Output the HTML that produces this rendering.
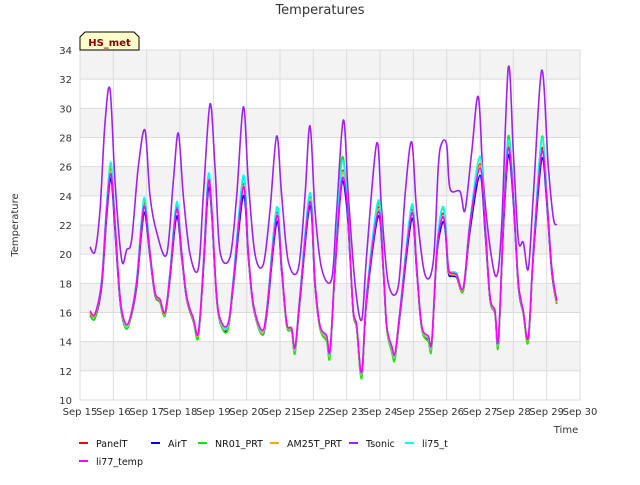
<!DOCTYPE html>
<html><head><meta charset="utf-8"><style>
body{margin:0;background:#fff;}
svg{font-family:"DejaVu Sans","Liberation Sans",sans-serif;}
</style></head><body>
<svg id="chart" width="640" height="480" viewBox="0 0 640 480" xmlns="http://www.w3.org/2000/svg">
<text x="320" y="14" text-anchor="middle" font-size="13" fill="#333">Temperatures</text>
<g id="bands"></g>
<g id="grid"></g>
<g id="yticks"></g>
<g id="xticks"></g>
<g id="series"></g>
<text transform="translate(18,225) rotate(-90)" text-anchor="middle" font-size="10" fill="#333">Temperature</text>
<text x="566" y="433" text-anchor="middle" font-size="10" fill="#333">Time</text>
<g>
<path d="M80,50 L80,37 L85,32 L134,32 L139,37 L139,50 Z" fill="#ffffcc" stroke="#000" stroke-width="1"/>
<text x="109.5" y="46" text-anchor="middle" font-size="10" font-weight="bold" fill="#8b0000">HS_met</text>
</g>
<g id="legend"></g>
</svg>
<script>
const yTicks=[10,12,14,16,18,20,22,24,26,28,30,32,34];
const xTickLabels=["Sep 15","Sep 16","Sep 17","Sep 18","Sep 19","Sep 20","Sep 21","Sep 22","Sep 23","Sep 24","Sep 25","Sep 26","Sep 27","Sep 28","Sep 29","Sep 30"];
const times=[0.3,0.45,0.65,0.8,0.93,1.05,1.2,1.35,1.5,1.7,1.85,1.95,2.1,2.25,2.4,2.55,2.7,2.9,3.05,3.2,3.4,3.55,3.7,3.85,3.95,4.1,4.25,4.45,4.6,4.9,5.05,5.2,5.45,5.6,5.9,6.05,6.2,6.35,6.45,6.6,6.9,7.05,7.2,7.4,7.5,7.65,7.85,8.0,8.1,8.2,8.3,8.45,8.6,8.95,9.1,9.2,9.35,9.45,9.6,9.95,10.1,10.25,10.45,10.55,10.7,10.85,10.95,11.05,11.15,11.3,11.5,11.7,12.0,12.15,12.3,12.45,12.55,12.7,12.85,13.0,13.15,13.3,13.45,13.6,13.85,14.0,14.15,14.3];
const panelT=[16.0,15.8,18,23,25.8,22,17,15.1,15.5,18,22,23.4,20,17.3,16.8,15.9,18.5,23.2,20,17,15.5,14.5,19,25.1,23,17,15.1,15.1,18,24.8,20,16.5,14.6,16,22.8,19,15.2,14.8,13.4,17,23.9,18,15,14.2,13.2,19,25.5,24,20,16,15,11.7,17,23.2,19,15,13.5,13,16,23,19,15,14.2,13.8,20,22.6,22.2,19,18.6,18.5,17.6,22,26.2,22,17,16,13.9,22,27.6,24,18,16,14.2,20,27.2,24,19,16.7];
const airT=[15.8,15.6,17.8,22.6,25.2,21.6,16.8,15.0,15.4,17.8,21.6,22.8,19.8,17.2,16.7,15.8,18.3,22.6,19.8,16.9,15.4,14.4,18.8,24.4,22.7,16.9,15.0,15.0,17.8,24,19.8,16.4,14.5,15.8,22.2,18.8,15.1,14.7,13.3,16.8,23.3,17.8,14.9,14.1,13.1,18.8,24.8,23.3,19.8,15.9,14.9,11.6,16.8,22.6,18.8,14.9,13.4,12.9,15.8,22.4,18.8,14.9,14.1,13.7,19.8,22,21.8,18.8,18.5,18.4,17.5,21.6,25.4,21.6,16.9,15.9,13.8,21.6,26.8,23.6,17.8,15.9,14.1,19.8,26.5,23.6,18.8,16.6];
const nr01=[15.9,15.6,18.2,23.3,26.1,22.2,17,15.0,15.4,18.2,22.3,23.7,20.1,17.3,16.7,15.8,18.7,23.5,20.1,17,15.4,14.3,19.2,25.4,23.1,17,15.0,14.9,18.2,25.3,20.1,16.5,14.5,16.1,23.2,19.1,15.1,14.7,13.2,17.2,24.2,18.1,14.9,14.0,13.0,19.2,26.5,24.2,20.1,16,14.9,11.5,17.2,23.5,19.1,14.9,13.3,12.8,16.1,23.3,19.1,14.9,14.0,13.6,20.2,23.0,22.5,19.1,18.7,18.6,17.5,22.2,26.7,22.2,17,15.9,13.7,22.2,28.1,24.2,18,15.9,14.0,20.2,28.0,24.2,19.1,16.6];
const am25t=[16.0,15.8,18,23,25.7,22,17,15.1,15.5,18,22,23.3,20,17.3,16.8,15.9,18.5,23.1,20,17,15.5,14.5,19,25.0,23,17,15.1,15.1,18,24.7,20,16.5,14.6,16,22.7,19,15.2,14.8,13.4,17,23.8,18,15,14.2,13.2,19,25.4,24,20,16,15,11.7,17,23.1,19,15,13.5,13,16,22.9,19,15,14.2,13.8,20,22.5,22.1,19,18.6,18.5,17.6,22,26.1,22,17,16,13.9,22,27.5,24,18,16,14.2,20,27.8,24,19,16.7];
const tTimes=[0.3,0.45,0.6,0.75,0.9,1.05,1.25,1.4,1.55,1.75,1.95,2.1,2.3,2.6,2.8,2.95,3.1,3.3,3.55,3.7,3.9,4.05,4.2,4.5,4.7,4.9,5.05,5.25,5.5,5.7,5.9,6.05,6.25,6.55,6.75,6.9,7.05,7.25,7.55,7.7,7.9,8.05,8.25,8.45,8.6,8.9,9.05,9.25,9.55,9.75,9.95,10.1,10.35,10.6,10.75,10.85,11.0,11.1,11.4,11.55,11.75,11.95,12.1,12.3,12.5,12.65,12.85,13.0,13.15,13.3,13.45,13.6,13.85,14.05,14.2,14.3];
const tsonic=[20.5,20.2,23,29,31.3,25,19.6,20.3,21,26,28.5,24,21.5,20,25,28.3,24,20,19,24,30.3,26,20.2,19.8,24,30.1,25,20,19.3,23,28.1,24,19.5,19,24,28.8,23,19,18.3,23,29.2,24,18,15.5,20,27.6,23,18,17.8,24,27.7,23,18.6,19.5,26,27.6,27.5,24.5,24.3,23,27,30.8,25,20.5,18.5,22,32.8,27,21,20.8,19,24,32.6,26,22.5,22];
const li75=[16.1,15.9,18.3,23.5,26.3,22.3,17.1,15.2,15.6,18.3,22.5,23.8,20.2,17.4,16.9,16.0,18.8,23.6,20.2,17.1,15.6,14.6,19.3,25.4,23.2,17.1,15.2,15.2,18.3,25.4,20.2,16.6,14.7,16.2,23.2,19.2,15.3,14.9,13.5,17.3,24.2,18.2,15.1,14.3,13.3,19.3,26.2,24.2,20.2,16.1,15.1,11.8,17.3,23.7,19.2,15.1,13.6,13.1,16.2,23.4,19.2,15.1,14.3,13.9,20.3,23.1,22.6,19.2,18.8,18.7,17.7,22.3,26.7,22.2,17.1,16.1,14.0,22.3,27.8,24.2,18.1,16.1,14.3,20.3,27.9,24.2,19.2,16.8];
const li77=[16.1,15.9,18.1,23.1,25.5,22.1,17.1,15.3,15.6,18.1,22.1,23.2,20.1,17.4,16.9,16.0,18.6,23.1,20.1,17.1,15.6,14.6,19.1,24.9,23.1,17.1,15.3,15.3,18.1,24.6,20.1,16.6,14.8,16.1,22.6,19.1,15.3,14.9,13.6,17.1,23.6,18.1,15.1,14.4,13.4,19.1,25.0,23.8,20.1,16.1,15.1,11.9,17.1,22.9,19.1,15.1,13.7,13.2,16.1,22.8,19.1,15.1,14.4,14.0,20.1,22.4,22.0,19.1,18.7,18.6,17.7,22.1,25.9,22.1,17.1,16.1,14.1,22.1,27.3,23.9,18.1,16.1,14.3,20.1,27.0,23.9,19.1,16.8];
const seriesNames=["PanelT","AirT","NR01_PRT","AM25T_PRT","Tsonic","li75_t","li77_temp"];
const seriesColors=["#ff0000","#0000ff","#00ee00","#ffa500","#a020f0","#00ffff","#ff00ff"];
const seriesData=[[times,panelT],[times,airT],[times,nr01],[times,am25t],[tTimes,tsonic],[times,li75],[times,li77]];

const X0=80,X1=580,Y0=400,Y1=50,YMIN=10,YMAX=34,DAYS=15;
const xs=d=>X0+(X1-X0)*d/DAYS;
const ys=v=>Y0-(Y0-Y1)*(v-YMIN)/(YMAX-YMIN);
const NS="http://www.w3.org/2000/svg";
function mk(tag,attrs,parent){const e=document.createElementNS(NS,tag);for(const k in attrs)e.setAttribute(k,attrs[k]);parent.appendChild(e);return e;}
const bands=document.getElementById('bands'),grid=document.getElementById('grid');
mk('rect',{x:X0,y:Y1,width:X1-X0,height:Y0-Y1,fill:'#fff'},bands);
for(let i=0;i<yTicks.length-1;i++){
  if((yTicks.length-2-i)%2===0){
    const r=mk('rect',{x:X0,y:ys(yTicks[i+1]),width:X1-X0,height:ys(yTicks[i])-ys(yTicks[i+1]),fill:'#f3f3f3'},bands);
    
    
  }
}
const yg=document.getElementById('yticks');
yTicks.forEach(v=>{
  const l=mk('line',{x1:X0,x2:X1,y1:ys(v),y2:ys(v),stroke:'#dcdcdc','stroke-width':1},grid);
  
  
  const t=mk('text',{x:X0-8,y:ys(v)+4,'text-anchor':'end','font-size':10,fill:'#333'},yg);
  
  
  t.textContent=v;
});
const xg=document.getElementById('xticks');
xTickLabels.forEach((s,i)=>{
  const l=mk('line',{x1:xs(i),x2:xs(i),y1:Y1,y2:Y0,stroke:'#dcdcdc','stroke-width':1},grid);
  
  
  const t=mk('text',{x:xs(i),y:Y0+15,'text-anchor':'middle','font-size':10,fill:'#333'},xg);
  
  
  t.textContent=s;
});
mk('rect',{x:X0,y:Y1,width:X1-X0,height:Y0-Y1,fill:'none',stroke:'#dcdcdc'},grid);
function pathFor(tt,vv){
  const p=tt.map((t,i)=>[xs(t),ys(vv[i])]);
  let d='M'+p[0][0].toFixed(1)+','+p[0][1].toFixed(1);
  for(let i=0;i<p.length-1;i++){
    const a=p[Math.max(0,i-1)],b=p[i],c=p[i+1],e=p[Math.min(p.length-1,i+2)];
    const c1=[b[0]+(c[0]-a[0])/6,b[1]+(c[1]-a[1])/6],c2=[c[0]-(e[0]-b[0])/6,c[1]-(e[1]-b[1])/6];
    d+=' C'+c1.map(n=>n.toFixed(1))+' '+c2.map(n=>n.toFixed(1))+' '+c[0].toFixed(1)+','+c[1].toFixed(1);
  }
  return d;
}
const sg=document.getElementById('series');
seriesData.forEach((sd,i)=>{
  const p=mk('path',{d:pathFor(sd[0],sd[1]),fill:'none',stroke:seriesColors[i],'stroke-width':1.6,'stroke-linejoin':'round'},sg);
  
  
});
const lg=document.getElementById('legend');
const legPos=[[79,443],[151,443],[198,443],[270,443],[349,443],[405,443],[79,461]];
seriesNames.forEach((n,i)=>{
  const g=mk('g',{},lg);
  
  
  const [x,y]=legPos[i];
  mk('line',{x1:x,x2:x+9,y1:y,y2:y,stroke:seriesColors[i],'stroke-width':2},g);
  const t=mk('text',{x:x+17,y:y+4,'font-size':9.5,fill:'#111'},g);
  t.textContent=n;
});
</script>
</body></html>
